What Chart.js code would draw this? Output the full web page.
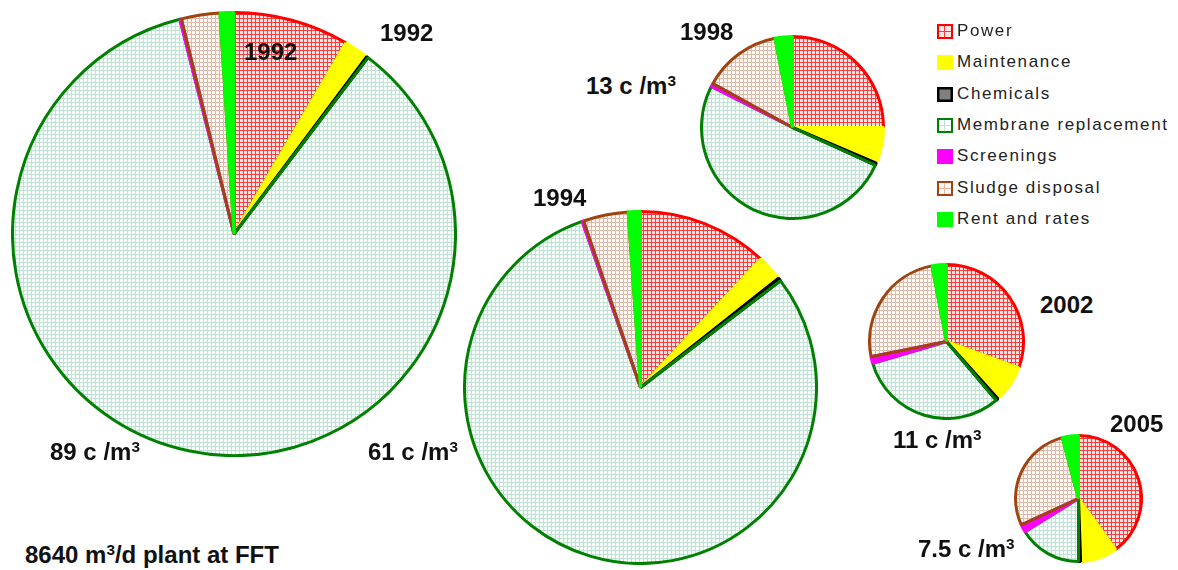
<!DOCTYPE html>
<html>
<head>
<meta charset="utf-8">
<script src="https://cdn.jsdelivr.net/npm/chart.js@4"></script>
<style>
  html, body { margin: 0; padding: 0; background: #fff; }
  #stage { position: relative; width: 1178px; height: 570px; overflow: hidden; font-family: "Liberation Sans", Arial, sans-serif; }
  .pie { position: absolute; }
  .lbl { position: absolute; font-weight: bold; line-height: 1; white-space: nowrap; color: #111; }
  .lbl sup { font-size: 0.64em; vertical-align: 0.55em; line-height: 0; }
  .leg { position: absolute; left: 937px; font-size: 17px; letter-spacing: 1.6px; line-height: 1; color: #222; }
  .leg canvas { position: absolute; left: 0; }
  .leg span { position: absolute; left: 20px; white-space: nowrap; }
</style>
</head>
<body>
<div id="stage"></div>
<script>
// cost components, c per m3 of permeate
const categories = ['Power', 'Maintenance', 'Chemicals', 'Membrane replacement', 'Screenings', 'Sludge disposal', 'Rent and rates']
const years = ['1992', '1994', '1998', '2002', '2005']
const cost1992 = [7.5, 1.6, 0.1, 76.3, 0.1, 2.5, 0.9]
const cost1994 = [7.3, 1.45, 0.17, 48.8, 0.08, 2.52, 0.68]
const cost1998 = [3.25, 0.83, 0.05, 6.59, 0.07, 1.81, 0.4]
const cost2002 = [3.36, 0.86, 0.05, 3.48, 0.15, 2.77, 0.33]
const cost2005 = [3.0, 0.71, 0.04, 1.21, 0.15, 2.08, 0.31]
const totals = ['89', '61', '13', '11', '7.5']

const stage = document.getElementById('stage')

// solid fill of each slice, and grid line colour for the hatched ones
const base = ['#ffe6e6', '#ffff00', '#808080', '#ffffff', '#ff00ff', '#fff8f5', '#00ff00']
const gridCol = ['#ff3838', null, null, '#bde4d2', null, '#e4b8a6', null]
const edges = ['#ff0000', '#ffff00', '#000000', '#008000', '#ff00ff', '#a0430f', '#00ff00']
const sliceFill = base.map((c, j) => gridCol[j] ? 'rgba(0,0,0,0)' : c)

// where each pie sits on the page
const pies = [
  { data: cost1992, cx: 233.5, cy: 233.5, r: 221.5 },
  { data: cost1994, cx: 640, cy: 387, r: 176 },
  { data: cost1998, cx: 792, cy: 127, r: 91 },
  { data: cost2002, cx: 946, cy: 341, r: 77 },
  { data: cost2005, cx: 1078, cy: 498, r: 63 }
]

// paint the hatched slices (light fill + 4px grid) under the library's arcs;
// the grid is kept in step with the page so every pie has the same phase
const gridFill = {
  id: 'gridFill',
  beforeDatasetsDraw(chart, args, opts) {
    const ctx = chart.ctx
    const ox = ((3 - opts.left) % 4 + 4) % 4
    const oy = ((2 - opts.top) % 4 + 4) % 4
    chart.getDatasetMeta(0).data.forEach((arc, j) => {
      if (!gridCol[j]) return
      const a = arc.getProps(['x', 'y', 'startAngle', 'endAngle', 'outerRadius'])
      ctx.save()
      ctx.beginPath()
      ctx.moveTo(a.x, a.y)
      ctx.arc(a.x, a.y, a.outerRadius, a.startAngle, a.endAngle)
      ctx.closePath()
      ctx.clip()
      ctx.fillStyle = base[j]
      ctx.fillRect(0, 0, chart.width, chart.height)
      ctx.fillStyle = gridCol[j]
      for (let gx = ox; gx < chart.width; gx += 4) ctx.fillRect(gx, 0, 1, chart.height)
      for (let gy = oy; gy < chart.height; gy += 4) ctx.fillRect(0, gy, chart.width, 1)
      ctx.restore()
    })
  }
}

pies.forEach((p, i) => {
  const bw = 3
  const size = Math.round(2 * p.r + bw)
  const left = Math.round(p.cx - size / 2)
  const top = Math.round(p.cy - size / 2)
  const cv = document.createElement('canvas')
  cv.className = 'pie'
  cv.width = size
  cv.height = size
  cv.style.left = left + 'px'
  cv.style.top = top + 'px'
  stage.appendChild(cv)
  new Chart(cv, {
    type: 'pie',
    data: {
      labels: categories,
      datasets: [{
        label: years[i],
        data: p.data,
        backgroundColor: sliceFill,
        borderColor: edges,
        borderWidth: bw
      }]
    },
    options: {
      responsive: false,
      animation: false,
      events: [],
      layout: { padding: 0 },
      plugins: {
        legend: { display: false },
        tooltip: { enabled: false },
        gridFill: { left: left, top: top }
      }
    },
    plugins: [gridFill]
  })
})

// text labels
function label(html, left, capTop, size) {
  const d = document.createElement('div')
  d.className = 'lbl'
  d.innerHTML = html
  d.style.left = left + 'px'
  d.style.top = (capTop - 0.13 * size) + 'px'
  d.style.fontSize = size + 'px'
  stage.appendChild(d)
}
const perM3 = t => t + ' c /m<sup>3</sup>'
label(years[0], 244, 43, 24)
label(years[0], 380, 24, 24)
label(years[2], 680, 23, 24)
label(years[1], 533, 189, 24)
label(years[3], 1040, 296, 24)
label(years[4], 1110, 415, 24)
label(perM3(totals[0]), 50, 443, 24)
label(perM3(totals[1]), 368, 443, 24)
label(perM3(totals[2]), 586, 77, 24)
label(perM3(totals[3]), 893, 431, 24)
label(perM3(totals[4]), 918, 540, 24)
label('8640 m<sup>3</sup>/d plant at FFT', 25, 546, 24)

// legend
categories.forEach((name, i) => {
  const row = document.createElement('div')
  row.className = 'leg'
  row.style.top = (24 + i * 31.3) + 'px'
  const sw = document.createElement('canvas')
  sw.width = 16
  sw.height = 15
  sw.style.top = '0px'
  const g = sw.getContext('2d')
  g.fillStyle = base[i]
  g.fillRect(0, 0, 16, 15)
  if (gridCol[i]) {
    g.fillStyle = gridCol[i]
    g.fillRect(7, 2, 1, 11)
    g.fillRect(2, 7, 12, 1)
    g.strokeStyle = edges[i]
    g.lineWidth = 2
    g.strokeRect(1, 1, 14, 13)
  } else if (i === 2) {
    g.strokeStyle = '#000'
    g.lineWidth = 2.5
    g.strokeRect(1.25, 1.25, 13.5, 12.5)
  }
  const t = document.createElement('span')
  t.textContent = name
  t.style.top = '-2px'
  row.appendChild(sw)
  row.appendChild(t)
  stage.appendChild(row)
})
</script>
</body>
</html>
